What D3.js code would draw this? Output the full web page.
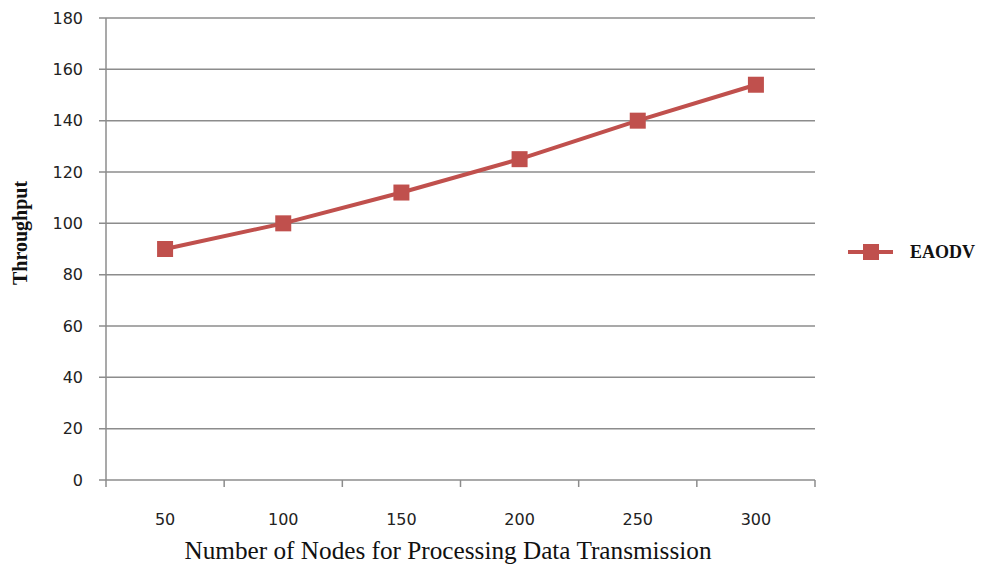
<!DOCTYPE html>
<html><head><meta charset="utf-8">
<script src="https://cdn.jsdelivr.net/npm/d3@7"></script>
<style>body{margin:0;background:#fff}</style>
</head><body>
<svg id="c" width="986" height="565"></svg>
<script>
const categories = ["50","100","150","200","250","300"];
const eaodv = [90, 100, 112, 125, 140, 154];
const yTicks = [0,20,40,60,80,100,120,140,160,180];
const seriesName = "EAODV";

const svg = d3.select("#c");
const m = {left:106, right:815, top:18, bottom:480};
const x = d3.scaleBand().domain(categories).range([m.left, m.right]);
const y = d3.scaleLinear().domain([0,180]).range([m.bottom, m.top]);
const grid = "#8c8c8c";
const red = "#c0504d";

svg.append("g").selectAll("line").data(yTicks).join("line")
  .attr("x1", m.left-7).attr("x2", m.right)
  .attr("y1", d=>y(d)).attr("y2", d=>y(d))
  .attr("stroke", grid).attr("stroke-width", 1.5);
svg.append("line").attr("x1", m.left).attr("x2", m.left)
  .attr("y1", m.top).attr("y2", m.bottom)
  .attr("stroke", grid).attr("stroke-width", 1.5);
const bounds = categories.map(c=>x(c)).concat([m.right]);
svg.append("g").selectAll("line").data(bounds).join("line")
  .attr("x1", d=>d).attr("x2", d=>d)
  .attr("y1", m.bottom).attr("y2", m.bottom+7)
  .attr("stroke", grid).attr("stroke-width", 1.5);
svg.append("g").selectAll("text").data(yTicks).join("text")
  .attr("x", 83).attr("y", d=>y(d)).attr("dy","0.36em")
  .attr("text-anchor","end")
  .attr("font-family","DejaVu Sans, sans-serif").attr("font-size",16)
  .attr("fill","#222").text(d=>d);
svg.append("g").selectAll("text").data(categories).join("text")
  .attr("x", d=>x(d)+x.bandwidth()/2).attr("y", 525)
  .attr("text-anchor","middle")
  .attr("font-family","DejaVu Sans, sans-serif").attr("font-size",16)
  .attr("fill","#222").text(d=>d);
svg.append("text").attr("x", 448).attr("y", 559)
  .attr("text-anchor","middle")
  .attr("font-family","Liberation Serif, Times New Roman, serif").attr("font-size",25)
  .attr("textLength",527).attr("lengthAdjust","spacingAndGlyphs")
  .attr("fill","#111").text("Number of Nodes for Processing Data Transmission");
svg.append("text").attr("transform","translate(27,233) rotate(-90)")
  .attr("text-anchor","middle")
  .attr("font-family","Liberation Serif, Times New Roman, serif").attr("font-size",20)
  .attr("font-weight","bold").attr("fill","#111").text("Throughput");

const line = d3.line().x((d,i)=>x(categories[i])+x.bandwidth()/2).y(d=>y(d));
svg.append("path").datum(eaodv).attr("d", line)
  .attr("fill","none").attr("stroke", red).attr("stroke-width",4);
svg.append("g").selectAll("rect").data(eaodv).join("rect")
  .attr("x",(d,i)=>x(categories[i])+x.bandwidth()/2-8)
  .attr("y",d=>y(d)-8).attr("width",16).attr("height",16)
  .attr("fill", red);

svg.append("line").attr("x1",848).attr("x2",893).attr("y1",252).attr("y2",252)
  .attr("stroke",red).attr("stroke-width",4);
svg.append("rect").attr("x",863).attr("y",244).attr("width",16).attr("height",16).attr("fill",red);
svg.append("text").attr("x",910).attr("y",258)
  .attr("font-family","Liberation Serif, Times New Roman, serif").attr("font-size",18)
  .attr("font-weight","bold").attr("fill","#111").text(seriesName);
</script>
</body></html>
